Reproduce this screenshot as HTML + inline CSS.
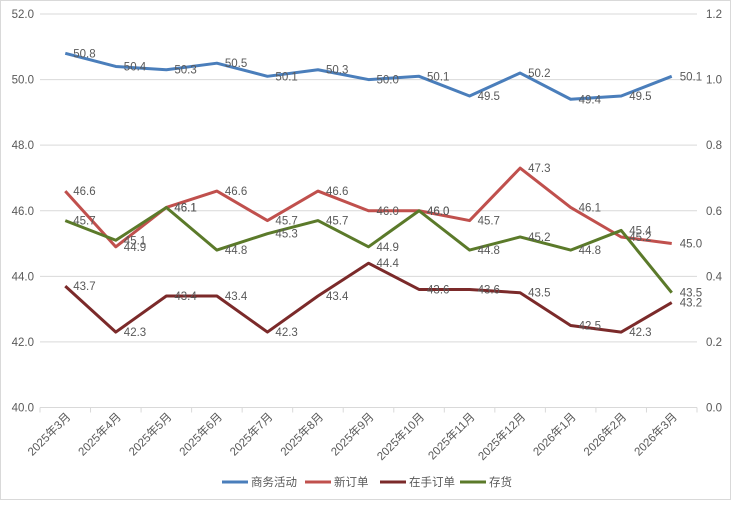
<!DOCTYPE html>
<html><head><meta charset="utf-8"><style>
body{margin:0;background:#fff;}
svg text{font-family:"Liberation Sans","Noto Sans CJK SC",sans-serif;fill:#595959;}
</style></head><body>
<svg id="chart" width="731" height="500" xmlns="http://www.w3.org/2000/svg">
<rect x="0.5" y="0.5" width="730" height="499" fill="#fff" stroke="#d9d9d9"/>
<g id="grid"></g><g id="axes"></g><g id="series"></g><g id="labels"></g><g id="legend"></g>
</svg>
<script>
const categories=["2025年3月","2025年4月","2025年5月","2025年6月","2025年7月","2025年8月","2025年9月","2025年10月","2025年11月","2025年12月","2026年1月","2026年2月","2026年3月"];
const businessActivity=[50.8,50.4,50.3,50.5,50.1,50.3,50.0,50.1,49.5,50.2,49.4,49.5,50.1];
const newOrders=[46.6,44.9,46.1,46.6,45.7,46.6,46.0,46.0,45.7,47.3,46.1,45.2,45.0];
const backlogOrders=[43.7,42.3,43.4,43.4,42.3,43.4,44.4,43.6,43.6,43.5,42.5,42.3,43.2];
const inventory=[45.7,45.1,46.1,44.8,45.3,45.7,44.9,46.0,44.8,45.2,44.8,45.4,43.5];
const leftTicks=["40.0","42.0","44.0","46.0","48.0","50.0","52.0"];
const rightTicks=["0.0","0.2","0.4","0.6","0.8","1.0","1.2"];
const seriesNames=["商务活动","新订单","在手订单","存货"];
const seriesColors=["#4a7ebb","#c0504d","#7b2a2a","#5b7a2a"];
const seriesData=[businessActivity,newOrders,backlogOrders,inventory];

const NS="http://www.w3.org/2000/svg";
const L=40,R=697,T=14,B=407.5,ymin=40,ymax=52;
const band=(R-L)/categories.length;
const xs=i=>L+band*(i+0.5);
const ys=v=>B-(v-ymin)/(ymax-ymin)*(B-T);
function mk(tag,attrs,parent){const e=document.createElementNS(NS,tag);for(const k in attrs)e.setAttribute(k,attrs[k]);parent.appendChild(e);return e;}
const grid=document.getElementById('grid'),axes=document.getElementById('axes'),ser=document.getElementById('series'),lab=document.getElementById('labels'),leg=document.getElementById('legend');
leftTicks.forEach((t,i)=>{
  const v=parseFloat(t),y=ys(v);
  const g=mk('line',{x1:L,x2:R,y1:y,y2:y,stroke:'#d9d9d9','stroke-width':1},grid);
  
  
  const lt=mk('text',{x:34,y:y+4,'text-anchor':'end','font-size':11.5},axes);lt.textContent=t;
  
  
  const rt=mk('text',{x:706,y:y+4,'font-size':11.5},axes);rt.textContent=rightTicks[i];
  
  
});
for(let i=0;i<=categories.length;i++){
  const x=L+band*i;
  const tk=mk('line',{x1:x,x2:x,y1:B,y2:B+5,stroke:'#d9d9d9'},axes);
  
  
}
categories.forEach((c,i)=>{
  const x=xs(i)+6,y=B+10;
  const t=mk('text',{x:x,y:y,'text-anchor':'end','font-size':11.5,transform:`rotate(-45 ${x} ${y})`},axes);t.textContent=c;
  
  
});
seriesData.forEach((d,s)=>{
  const p=mk('polyline',{points:d.map((v,i)=>xs(i)+','+ys(v)).join(' '),fill:'none',stroke:seriesColors[s],'stroke-width':3,'stroke-linejoin':'round'},ser);
  
  
  d.forEach((v,i)=>{
    const t=mk('text',{x:xs(i)+8,y:ys(v)+4,'font-size':11.5},lab);t.textContent=v.toFixed(1);
    
    
  });
});
const legX=[222,305,380,460];
seriesNames.forEach((n,s)=>{
  const l=mk('line',{x1:legX[s],x2:legX[s]+26,y1:482,y2:482,stroke:seriesColors[s],'stroke-width':3},leg);
  
  
  const t=mk('text',{x:legX[s]+29,y:486,'font-size':11.5},leg);t.textContent=n;
  
  
});
</script>
</body></html>
